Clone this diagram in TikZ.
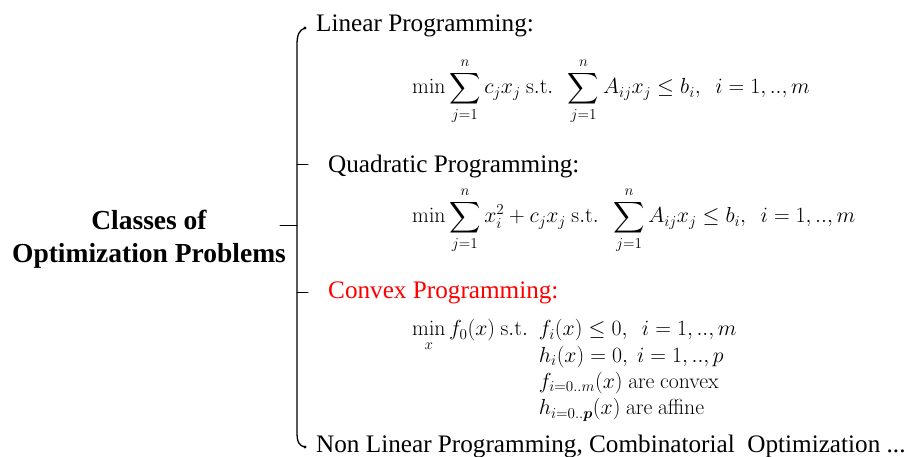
\documentclass[tikz,border=0pt]{standalone}
\usepackage{amsmath}
\usepackage{graphicx}
\usepackage[no-math]{fontspec}
\setmainfont{Liberation Serif}
\begin{document}
\begin{tikzpicture}[x=1pt,y=-1pt,
  lbl/.style={anchor=base west,inner sep=0pt,font=\fontsize{25.2}{30}\selectfont},
  mth/.style={anchor=base west,inner sep=0pt,font=\fontsize{20.74}{25}\selectfont},
  ttl/.style={align=center,inner sep=0pt,font=\fontsize{27.5}{33}\selectfont\bfseries},
  brace/.style={line width=1.3pt,line cap=round}]
\useasboundingbox (0,0) rectangle (914,457);
\node[ttl] (title) at (149,239) {Classes of\\Optimization Problems};
\node[lbl] (lp) at (316,32) {Linear Programming:};
\node[mth] (lpf) at (412,94) {\scalebox{1.05}{$\displaystyle \min\sum_{j=1}^{n} c_j x_j \ \mathrm{s.t.}\ \ \sum_{j=1}^{n} A_{ij}x_j \le b_i,\ \ i=1,..,m$}};
\node[lbl] (qp) at (328,173) {Quadratic Programming:};
\node[mth] (qpf) at (412,223) {\scalebox{1.05}{$\displaystyle \min\sum_{j=1}^{n} x_i^2 + c_j x_j \ \mathrm{s.t.}\ \ \sum_{j=1}^{n} A_{ij}x_j \le b_i,\ \ i=1,..,m$}};
\node[lbl,text=red] (cp) at (328,299) {Convex Programming:};
\node[mth] (cpf) at (412,336) {\scalebox{1.05}{$\displaystyle \min_x f_0(x)\ \mathrm{s.t.}\ \
  \renewcommand{\arraystretch}{1.0}\begin{array}[t]{@{}l@{}}
  f_i(x)\le 0,\ \ i=1,..,m\\
  h_i(x)=0,\ i=1,..,p\\
  f_{i=0..m}(x)\ \mathrm{are\ convex}\\
  h_{i=0..\boldsymbol{p}}(x)\ \mathrm{are\ affine}
  \end{array}$}};
\node[lbl] (nlp) at (316,452) {Non Linear Programming, Combinatorial\ \ Optimization ...};
% brace
\coordinate (btop) at (305,28);
\coordinate (bbot) at (305,447);
\coordinate (bmid) at (297,226);
\coordinate (tmid) at (280,226);
\coordinate (q1) at (297,165);
\coordinate (q2) at (308,165);
\coordinate (c1) at (297,293);
\coordinate (c2) at (308,293);
\draw[brace] (btop) .. controls (299,30) and (297,35) .. (297,45) -- (297,432) .. controls (297,442) and (299,446) .. (bbot);
\fill (btop) circle (1.6);
\fill (bbot) circle (1.6);
\draw[brace,line width=1pt] (bmid) -- (tmid);
\draw[brace,line width=1pt] (q1) -- (q2);
\draw[brace,line width=1pt] (c1) -- (c2);
\end{tikzpicture}
\end{document}
